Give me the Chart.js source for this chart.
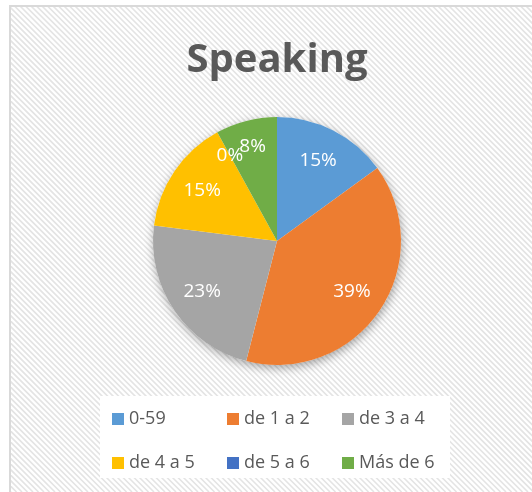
<!DOCTYPE html>
<html>
<head>
<meta charset="utf-8">
<script src="https://cdn.jsdelivr.net/npm/chart.js@4"></script>
<style>
  html, body { margin: 0; padding: 0; background: #fff; }
  canvas { display: block; }
</style>
</head>
<body>
<canvas id="speakingChart" width="532" height="492"></canvas>
<script>
// chart data
const categories = ['0-59', 'de 1 a 2', 'de 3 a 4', 'de 4 a 5', 'de 5 a 6', 'Más de 6'];
const percents = [15, 39, 23, 15, 0, 8];
const sliceColors = ['#5B9BD5', '#ED7D31', '#A5A5A5', '#FFC000', '#4472C4', '#70AD47'];

// hatched frame behind everything
const frameBackground = {
    id: 'frameBackground',
    beforeDraw(chart) {
        const c = chart.ctx;
        const w = chart.width, h = chart.height;
        c.save();
        c.fillStyle = '#ffffff';
        c.fillRect(0, 0, w, h);
        c.beginPath();
        c.rect(11, 7, w - 11, h - 7);
        c.clip();
        c.strokeStyle = '#e4e4e4';
        c.lineWidth = 1.6;
        for (let x = -h; x < w + h; x += 5.5) {
            c.beginPath();
            c.moveTo(x, 0);
            c.lineTo(x + h, h);
            c.stroke();
        }
        c.restore();
        c.save();
        c.strokeStyle = '#d9d9d9';
        c.lineWidth = 2;
        c.strokeRect(10, 6, w + 10, h + 10);
        c.restore();
    }
};

// soft shadow under the pie
const pieShadow = {
    id: 'pieShadow',
    beforeDatasetsDraw(chart) {
        const arc = chart.getDatasetMeta(0).data[0];
        if (!arc) return;
        const c = chart.ctx;
        c.save();
        c.shadowColor = 'rgba(0,0,0,0.35)';
        c.shadowBlur = 10;
        c.shadowOffsetX = 1;
        c.shadowOffsetY = 3;
        c.fillStyle = '#ffffff';
        c.beginPath();
        c.arc(arc.x, arc.y, arc.outerRadius, 0, Math.PI * 2);
        c.fill();
        c.restore();
    }
};

// percentage labels on the slices
const sliceLabels = {
    id: 'sliceLabels',
    afterDatasetsDraw(chart) {
        const c = chart.ctx;
        const values = chart.data.datasets[0].data;
        c.save();
        c.fillStyle = '#ffffff';
        c.font = '19px "Open Sans"';
        c.textAlign = 'center';
        c.textBaseline = 'middle';
        chart.getDatasetMeta(0).data.forEach((arc, i) => {
            const mid = (arc.startAngle + arc.endAngle) / 2;
            const f = values[i] < 10 ? 0.79 : 0.73;
            const px = arc.x + Math.cos(mid) * arc.outerRadius * f;
            const py = arc.y + Math.sin(mid) * arc.outerRadius * f;
            c.fillText(values[i] + '%', px, py);
        });
        c.restore();
    }
};

// legend in a 3 column grid on a white panel
const gridLegend = {
    id: 'gridLegend',
    afterDraw(chart) {
        const c = chart.ctx;
        const labels = chart.data.labels;
        const colors = chart.data.datasets[0].backgroundColor;
        c.save();
        c.fillStyle = '#ffffff';
        c.fillRect(100, 396, 350, 82);
        c.font = '18px "Open Sans"';
        c.textBaseline = 'middle';
        c.textAlign = 'left';
        labels.forEach((lab, i) => {
            const col = i % 3, row = Math.floor(i / 3);
            const x = 112 + col * 115;
            const y = 419 + row * 44;
            c.fillStyle = colors[i];
            c.fillRect(x, y - 6, 12, 12);
            c.fillStyle = '#595959';
            c.fillText(lab, x + 17, y);
        });
        c.restore();
    }
};

document.addEventListener('DOMContentLoaded', function() {
    const ctx = document.getElementById('speakingChart').getContext('2d');
    new Chart(ctx, {
        type: 'pie',
        data: {
            labels: categories,
            datasets: [{
                data: percents,
                backgroundColor: sliceColors,
                borderWidth: 0,
                hoverBorderWidth: 0,
                hoverOffset: 0
            }]
        },
        options: {
            responsive: false,
            animation: false,
            layout: {
                padding: { top: 0, left: 22, right: 0, bottom: 127 }
            },
            plugins: {
                legend: { display: false },
                tooltip: { enabled: false },
                title: {
                    display: true,
                    text: 'Speaking',
                    color: '#595959',
                    font: { family: 'Open Sans', size: 40, weight: 'bold' },
                    padding: { top: 37, bottom: 32 }
                }
            }
        },
        plugins: [frameBackground, pieShadow, sliceLabels, gridLegend]
    });
});
</script>
</body>
</html>
